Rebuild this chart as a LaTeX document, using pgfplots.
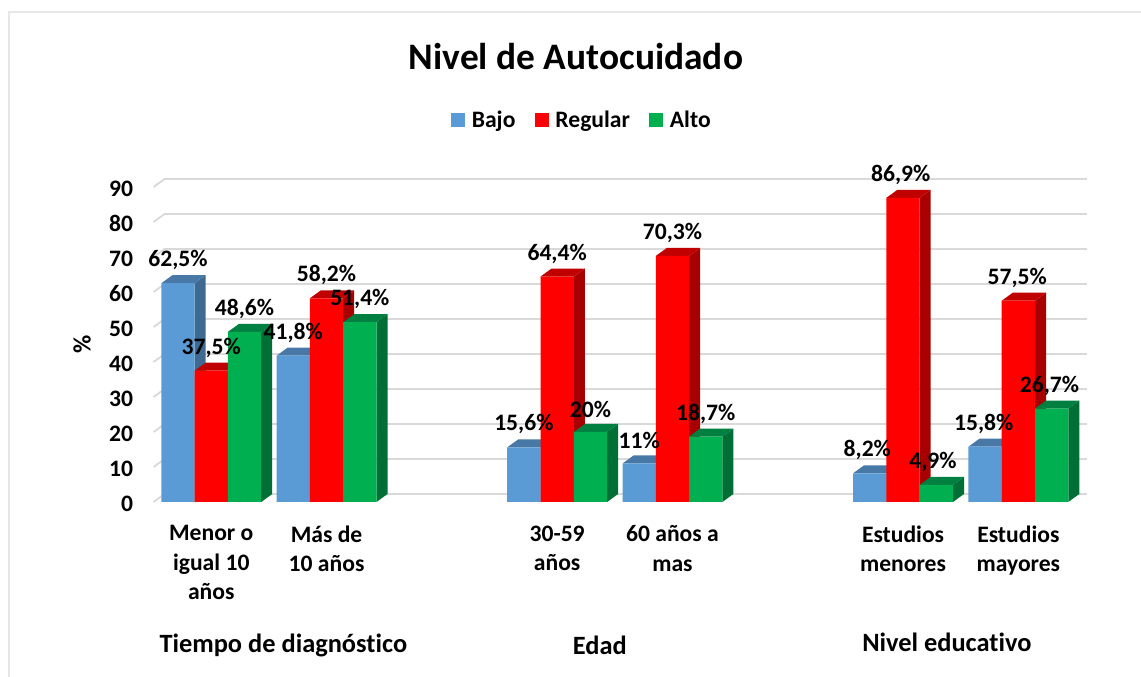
\documentclass[border=0pt]{standalone}
\usepackage{fontspec}
\setmainfont[Ligatures=NoCommon]{Carlito}
\usepackage{pgfplots}
\usepackage{pgfplotstable}
\pgfplotsset{compat=1.18}
\definecolor{cblue}{HTML}{5B9BD5}\definecolor{cblueS}{HTML}{3E6A92}\definecolor{cblueT}{HTML}{4879A6}
\definecolor{cred}{HTML}{FF0000}\definecolor{credS}{HTML}{A80000}\definecolor{credT}{HTML}{C00000}
\definecolor{cgreen}{HTML}{00B050}\definecolor{cgreenS}{HTML}{006F35}\definecolor{cgreenT}{HTML}{008040}
\definecolor{cgrid}{HTML}{D9D9D9}\definecolor{cframe}{HTML}{E6E6E6}
\pgfplotstableread{
x v
0 62.5
1 41.8
3 15.6
4 11
6 8.2
7 15.8
}\bajo
\pgfplotstableread{
x v
0 37.5
1 58.2
3 64.4
4 70.3
6 86.9
7 57.5
}\regular
\pgfplotstableread{
x v
0 48.6
1 51.4
3 20
4 18.7
6 4.9
7 26.7
}\alto
\pgfplotstableread{
x v t
-0.2888 62.5 62,5
0.7112 41.8 41,8
2.7112 15.6 15,6
3.7112 11 11
5.69 8.2 8,2
6.70 15.8 15,8
0 37.5 37,5
1 58.2 58,2
3 64.4 64,4
4 70.3 70,3
5.98 86.9 86,9
6.99 57.5 57,5
0.2888 48.6 48,6
1.2888 51.4 51,4
3.2888 20 20
4.2888 18.7 18,7
6.26 4.9 4,9
7.27 26.7 26,7
}\etiquetas
\newcommand{\bw}{0.2888}
\newcommand{\dxx}{0.0954}
\newcommand{\dyy}{2.286}
\newcommand{\faces}[5]{%
  \pgfmathsetmacro\xa{#1+(#2)*\bw-\bw/2}%
  \pgfmathsetmacro\xb{\xa+\bw}%
  \pgfmathsetmacro\xc{\xb+\dxx}%
  \pgfmathsetmacro\xd{\xa+\dxx}%
  \pgfmathsetmacro\yt{#3+\dyy}%
  \edef\temp{\noexpand\addplot[forget plot,fill=#4,draw=none] coordinates {(\xb,0) (\xc,\dyy) (\xc,\yt) (\xb,#3)};
  \noexpand\addplot[forget plot,fill=#5,draw=none] coordinates {(\xa,#3) (\xb,#3) (\xc,\yt) (\xd,\yt)};}%
  \temp}
\newcommand{\gridline}[1]{%
  \pgfmathsetmacro\yt{#1+\dyy}%
  \pgfmathsetmacro\xc{-0.5+\dxx}%
  \edef\temp{\noexpand\addplot[forget plot,draw=cgrid,line width=1.8pt] coordinates {(-0.5,#1) (\xc,\yt) (7.595,\yt)};}%
  \temp}
\pgfplotsset{frontbar/.style={ybar,bar width=33.3pt,draw=none,fill=#1,
  legend image code/.code={\fill[fill=#1,draw=none] (0pt,-7pt) rectangle (14pt,7pt);}}}
\begin{document}
\begin{tikzpicture}[x=1pt,y=1pt]
\useasboundingbox (0,0) rectangle (1141,677);
\draw[cframe,line width=2pt] (9,0) -- (9,665) -- (1141,665);
\begin{axis}[
  at={(153.6pt,175pt)},anchor=south west,scale only axis,
  width=933.35pt,height=323pt,
  xmin=-0.5,xmax=7.595,ymin=0,ymax=92.286,
  clip=false,no markers,
  axis line style={draw=none},major tick length=0pt,
  xtick={0,1,3,4,6,7},
  xticklabels={{Menor o\\igual 10\\años},{Más de\\10 años},{30-59\\años},{60 años a\\mas},{Estudios\\menores},{Estudios\\mayores}},
  x tick label style={align=center,font=\fontsize{23.6}{29.5}\selectfont\bfseries,anchor=north,yshift=-20pt},
  ytick={0,10,...,90},
  /pgf/number format/assume math mode=true,
  y tick label style={font=\fontsize{23.6}{26}\selectfont\bfseries},
  yticklabel style={xshift=-17pt,yshift=-1.5pt},
  ylabel={\%},
  every axis y label/.style={at={(axis description cs:-0.0767,0.489)},rotate=90,anchor=center,font=\fontsize{25}{28}\selectfont\bfseries},
  title={Nivel de Autocuidado},
  every axis title/.style={at={(axis description cs:0.4525,1.378)},anchor=center,font=\fontsize{37.4}{42}\selectfont\bfseries},
  legend style={at={(axis description cs:0.4590,1.1827)},anchor=center,draw=none,fill=none,legend columns=3,
    font=\fontsize{23.6}{27}\selectfont\bfseries,
    /tikz/column 1/.style={column sep=4.5pt},/tikz/column 3/.style={column sep=4.5pt},/tikz/column 5/.style={column sep=4.5pt},
    /tikz/column 2/.style={column sep=17.5pt},/tikz/column 4/.style={column sep=17.5pt}},
  nodes near coords style={font=\fontsize{23.6}{27}\selectfont\bfseries,anchor=center,yshift=23pt},
]
\gridline{0}\gridline{10}\gridline{20}\gridline{30}\gridline{40}\gridline{50}\gridline{60}\gridline{70}\gridline{80}\gridline{90}
% Bajo
\faces{0}{-1}{62.5}{cblueS}{cblueT}\faces{1}{-1}{41.8}{cblueS}{cblueT}\faces{3}{-1}{15.6}{cblueS}{cblueT}
\faces{4}{-1}{11}{cblueS}{cblueT}\faces{6}{-1}{8.2}{cblueS}{cblueT}\faces{7}{-1}{15.8}{cblueS}{cblueT}
\addplot[frontbar=cblue,bar shift=-33.3pt] table[x=x,y=v]{\bajo};
\addlegendentry{Bajo}
% Regular
\faces{0}{0}{37.5}{credS}{credT}\faces{1}{0}{58.2}{credS}{credT}\faces{3}{0}{64.4}{credS}{credT}
\faces{4}{0}{70.3}{credS}{credT}\faces{6}{0}{86.9}{credS}{credT}\faces{7}{0}{57.5}{credS}{credT}
\addplot[frontbar=cred,bar shift=0pt] table[x=x,y=v]{\regular};
\addlegendentry{Regular}
% Alto
\faces{0}{1}{48.6}{cgreenS}{cgreenT}\faces{1}{1}{51.4}{cgreenS}{cgreenT}\faces{3}{1}{20}{cgreenS}{cgreenT}
\faces{4}{1}{18.7}{cgreenS}{cgreenT}\faces{6}{1}{4.9}{cgreenS}{cgreenT}\faces{7}{1}{26.7}{cgreenS}{cgreenT}
\addplot[frontbar=cgreen,bar shift=33.3pt] table[x=x,y=v]{\alto};
\addlegendentry{Alto}
% Etiquetas
\addplot[forget plot,draw=none,only marks,mark=none,point meta=explicit symbolic,
  nodes near coords={\pgfplotspointmeta\%}] table[x=x,y=v,meta=t]{\etiquetas};
\node[font=\fontsize{26.4}{30}\selectfont\bfseries,anchor=center] at (axis cs:0.625,-40.9) {Tiempo de diagnóstico};
\node[font=\fontsize{26.4}{30}\selectfont\bfseries,anchor=center] at (axis cs:3.37,-40.9) {Edad};
\node[font=\fontsize{26.4}{30}\selectfont\bfseries,anchor=center] at (axis cs:6.38,-40) {Nivel educativo};
\end{axis}
\end{tikzpicture}
\end{document}
